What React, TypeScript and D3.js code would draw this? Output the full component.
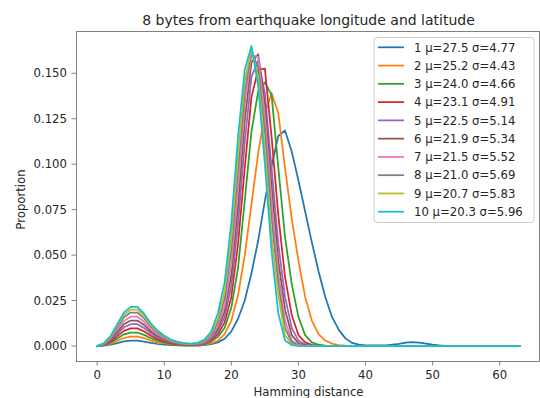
import React from 'react';
import * as d3 from 'd3';

// Hamming distance 0..63 (index = distance)
const series1 = [
  0, 0.0002, 0.0007, 0.0016, 0.0025, 0.0029, 0.0029, 0.0024, 0.0017, 0.0011,
  0.0008, 0.0005, 0.0003, 0.0002, 0.0002, 0.0002, 0.0005, 0.001, 0.002, 0.004,
  0.008, 0.015, 0.025, 0.04, 0.058, 0.08, 0.099, 0.1155, 0.1185, 0.107,
  0.091, 0.074, 0.057, 0.041, 0.027, 0.016, 0.009, 0.0042, 0.0017, 0.0008,
  0.0004, 0.0003, 0.0003, 0.0004, 0.0007, 0.0012, 0.0018, 0.0021, 0.0019, 0.0013,
  0.0007, 0.0003, 0.0001, 0, 0, 0, 0, 0, 0, 0,
  0, 0, 0, 0,
];
const series2 = [
  0, 0.0004, 0.0013, 0.0029, 0.0044, 0.0052, 0.0052, 0.0043, 0.003, 0.002,
  0.0014, 0.0009, 0.0006, 0.0004, 0.0003, 0.0004, 0.0007, 0.0014, 0.003, 0.0065,
  0.014, 0.028, 0.05, 0.078, 0.106, 0.128, 0.139, 0.128, 0.098, 0.07,
  0.047, 0.027, 0.014, 0.0065, 0.003, 0.0013, 0.0005, 0.0002, 0, 0,
  0, 0, 0, 0, 0, 0, 0, 0, 0, 0,
  0, 0, 0, 0, 0, 0, 0, 0, 0, 0,
  0, 0, 0, 0,
];
const series3 = [
  0, 0.0005, 0.0019, 0.0041, 0.0064, 0.0074, 0.0074, 0.0061, 0.0043, 0.0029,
  0.002, 0.0012, 0.0008, 0.0006, 0.0004, 0.0006, 0.001, 0.0024, 0.005, 0.01,
  0.021, 0.043, 0.08, 0.118, 0.14, 0.145, 0.138, 0.098, 0.06, 0.034,
  0.016, 0.006, 0.002, 0.0007, 0.0002, 0, 0, 0, 0, 0,
  0, 0, 0, 0, 0, 0, 0, 0, 0, 0,
  0, 0, 0, 0, 0, 0, 0, 0, 0, 0,
  0, 0, 0, 0,
];
const series4 = [
  0, 0.0007, 0.0025, 0.0054, 0.0083, 0.0097, 0.0097, 0.008, 0.0056, 0.0038,
  0.0026, 0.0016, 0.001, 0.0007, 0.0006, 0.0008, 0.0012, 0.003, 0.0065, 0.013,
  0.027, 0.056, 0.098, 0.137, 0.152, 0.1525, 0.115, 0.072, 0.038, 0.017,
  0.006, 0.002, 0.0006, 0.0002, 0, 0, 0, 0, 0, 0,
  0, 0, 0, 0, 0, 0, 0, 0, 0, 0,
  0, 0, 0, 0, 0, 0, 0, 0, 0, 0,
  0, 0, 0, 0,
];
const series5 = [
  0, 0.0008, 0.0031, 0.0067, 0.0103, 0.012, 0.012, 0.0099, 0.007, 0.0047,
  0.0032, 0.002, 0.0013, 0.0009, 0.0007, 0.0009, 0.0014, 0.0035, 0.008, 0.016,
  0.033, 0.067, 0.112, 0.148, 0.157, 0.139, 0.098, 0.056, 0.027, 0.01,
  0.003, 0.0008, 0.0002, 0, 0, 0, 0, 0, 0, 0,
  0, 0, 0, 0, 0, 0, 0, 0, 0, 0,
  0, 0, 0, 0, 0, 0, 0, 0, 0, 0,
  0, 0, 0, 0,
];
const series6 = [
  0, 0.001, 0.0036, 0.0078, 0.012, 0.014, 0.014, 0.0116, 0.0081, 0.0055,
  0.0037, 0.0023, 0.0015, 0.001, 0.0008, 0.0011, 0.0017, 0.0042, 0.0095, 0.019,
  0.039, 0.077, 0.124, 0.156, 0.1605, 0.133, 0.088, 0.047, 0.02, 0.006,
  0.0015, 0.0004, 0, 0, 0, 0, 0, 0, 0, 0,
  0, 0, 0, 0, 0, 0, 0, 0, 0, 0,
  0, 0, 0, 0, 0, 0, 0, 0, 0, 0,
  0, 0, 0, 0,
];
const series7 = [
  0, 0.0011, 0.0041, 0.009, 0.0138, 0.0161, 0.0161, 0.0133, 0.0093, 0.0063,
  0.0043, 0.0027, 0.0017, 0.0012, 0.001, 0.0013, 0.002, 0.005, 0.011, 0.022,
  0.045, 0.087, 0.133, 0.16, 0.159, 0.126, 0.079, 0.04, 0.014, 0.003,
  0.0006, 0.0001, 0, 0, 0, 0, 0, 0, 0, 0,
  0, 0, 0, 0, 0, 0, 0, 0, 0, 0,
  0, 0, 0, 0, 0, 0, 0, 0, 0, 0,
  0, 0, 0, 0,
];
const series8 = [
  0, 0.0013, 0.0047, 0.0103, 0.0158, 0.0184, 0.0184, 0.0152, 0.0107, 0.0073,
  0.0049, 0.0031, 0.002, 0.0014, 0.0011, 0.0014, 0.0025, 0.006, 0.013, 0.026,
  0.053, 0.097, 0.14, 0.162, 0.153, 0.118, 0.07, 0.034, 0.01, 0.002,
  0.0004, 0, 0, 0, 0, 0, 0, 0, 0, 0,
  0, 0, 0, 0, 0, 0, 0, 0, 0, 0,
  0, 0, 0, 0, 0, 0, 0, 0, 0, 0,
  0, 0, 0, 0,
];
const series9 = [
  0, 0.0014, 0.0051, 0.0112, 0.0172, 0.02, 0.02, 0.0166, 0.0116, 0.0079,
  0.0053, 0.0033, 0.0021, 0.0015, 0.0012, 0.0016, 0.003, 0.007, 0.015, 0.03,
  0.06, 0.105, 0.146, 0.163, 0.148, 0.108, 0.06, 0.028, 0.006, 0.001,
  0.0002, 0, 0, 0, 0, 0, 0, 0, 0, 0,
  0, 0, 0, 0, 0, 0, 0, 0, 0, 0,
  0, 0, 0, 0, 0, 0, 0, 0, 0, 0,
  0, 0, 0, 0,
];
const series10 = [
  0, 0.0015, 0.0055, 0.012, 0.0185, 0.0215, 0.0215, 0.0178, 0.0125, 0.0085,
  0.0057, 0.0036, 0.0023, 0.0016, 0.0013, 0.0017, 0.0035, 0.008, 0.018, 0.035,
  0.068, 0.115, 0.152, 0.165, 0.143, 0.1, 0.052, 0.018, 0.003, 0.0005,
  0.0001, 0, 0, 0, 0, 0, 0, 0, 0, 0,
  0, 0, 0, 0, 0, 0, 0, 0, 0, 0,
  0, 0, 0, 0, 0, 0, 0, 0, 0, 0,
  0, 0, 0, 0,
];

const allSeries = [series1, series2, series3, series4, series5, series6, series7, series8, series9, series10];
const seriesLabels = [
  '1 μ=27.5 σ=4.77',
  '2 μ=25.2 σ=4.43',
  '3 μ=24.0 σ=4.66',
  '4 μ=23.1 σ=4.91',
  '5 μ=22.5 σ=5.14',
  '6 μ=21.9 σ=5.34',
  '7 μ=21.5 σ=5.52',
  '8 μ=21.0 σ=5.69',
  '9 μ=20.7 σ=5.83',
  '10 μ=20.3 σ=5.96',
];
const colors = ['#1f77b4', '#ff7f0e', '#2ca02c', '#d62728', '#9467bd', '#8c564b', '#e377c2', '#7f7f7f', '#bcbd22', '#17becf'];
const xTicks = [0, 10, 20, 30, 40, 50, 60];
const yTicks = [0, 0.025, 0.05, 0.075, 0.1, 0.125, 0.15];

const W = 540;
const H = 398;
const L = 76, R = 541, T = 31, B = 361;
const FONT = "'DejaVu Sans', sans-serif";
const TXT = '#262626';
const SPINE = '#808080';

export default function App() {
  const n = series1.length;
  const xPad = (n - 1) * 0.05;
  const x = d3.scaleLinear().domain([0 - xPad, n - 1 + xPad]).range([L, R]);
  const yMax = d3.max(allSeries.flat()) as number;
  const yPad = yMax * 0.05;
  const y = d3.scaleLinear().domain([0 - yPad, yMax + yPad]).range([B, T]);
  const line = d3.line<number>().x((_, i) => x(i)).y((d) => y(d));
  const rightEdge = Math.min(R, W - 0.5);
  const cx = (L + R) / 2;

  const legX = 374, legY = 37.5, legW = 160, legH = 185;
  const rowY0 = 47.3, rowStep = 18.27;

  return (
    <svg width={W} height={H} style={{ position: 'absolute', left: 0, top: 0, background: '#fff' }} fontFamily={FONT}>
      <rect x={0} y={0} width={W} height={H} fill="#fff" />
      <text x={cx} y={24.5} textAnchor="middle" fontSize={14} fill={TXT}>8 bytes from earthquake longitude and latitude</text>
      <g fill="none" strokeWidth={1.75} strokeLinejoin="round" strokeLinecap="square">
        {allSeries.map((s, k) => (
          <path key={k} d={line(s) || ''} stroke={colors[k]} />
        ))}
      </g>
      {/* spines */}
      <g stroke={SPINE} strokeWidth={1} shapeRendering="crispEdges">
        <line x1={L} x2={L} y1={T} y2={B} />
        <line x1={L} x2={rightEdge} y1={B} y2={B} />
        <line x1={L} x2={rightEdge} y1={T} y2={T} />
        <line x1={rightEdge} x2={rightEdge} y1={T} y2={B} />
      </g>
      {/* x ticks */}
      {xTicks.map((t) => (
        <g key={t}>
          <line x1={x(t)} x2={x(t)} y1={B} y2={B + 4.5} stroke={SPINE} strokeWidth={1} />
          <text x={x(t)} y={378.5} textAnchor="middle" fontSize={11.7} fill={TXT}>{t}</text>
        </g>
      ))}
      {/* y ticks */}
      {yTicks.map((t) => (
        <g key={t}>
          <line x1={L - 4.5} x2={L} y1={y(t)} y2={y(t)} stroke={SPINE} strokeWidth={1} />
          <text x={67} y={y(t) + 4.2} textAnchor="end" fontSize={11.7} fill={TXT}>{d3.format('.3f')(t)}</text>
        </g>
      ))}
      <text x={cx} y={396} textAnchor="middle" fontSize={11.7} fill={TXT}>Hamming distance</text>
      <text transform={`translate(24.5, 199.5) rotate(-90)`} textAnchor="middle" fontSize={11.7} fill={TXT}>Proportion</text>
      {/* legend */}
      <rect x={legX} y={legY} width={legW} height={legH} rx={3} fill="#fff" fillOpacity={0.8} stroke="#cccccc" strokeWidth={1} />
      {seriesLabels.map((lab, k) => {
        const ry = rowY0 + k * rowStep;
        return (
          <g key={lab}>
            <line x1={378} x2={404} y1={ry} y2={ry} stroke={colors[k]} strokeWidth={1.75} />
            <text x={414} y={ry + 4.2} fontSize={11.7} fill={TXT}>{lab}</text>
          </g>
        );
      })}
    </svg>
  );
}
